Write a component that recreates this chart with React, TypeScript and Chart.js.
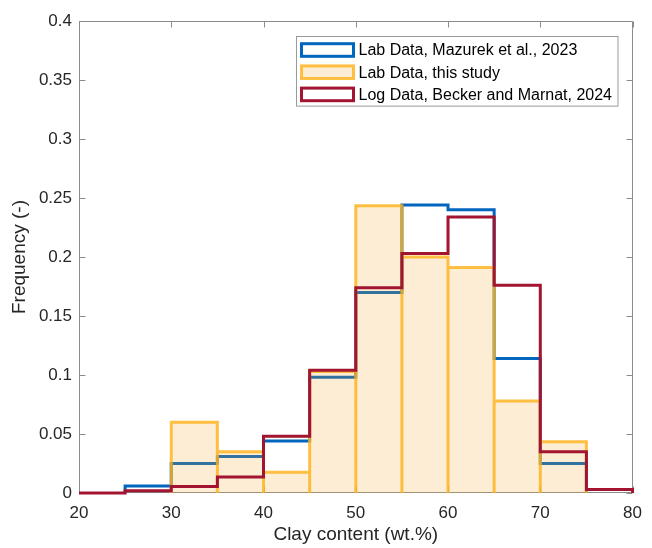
import { useEffect, useRef } from "react";
import { Chart, registerables } from "chart.js";

Chart.register(...registerables);

// ---- data ----
const binEdges = [20, 25, 30, 35, 40, 45, 50, 55, 60, 65, 70, 75, 80];
const mazurekFreq: (number | null)[] = [null, 0.006, 0.025, 0.031, 0.044, 0.098, 0.170, 0.244, 0.240, 0.114, 0.025, null];
const thisStudyFreq: (number | null)[] = [null, null, 0.060, 0.035, 0.0175, 0.103, 0.2435, 0.200, 0.191, 0.078, 0.0435, null];
const beckerFreq: (number | null)[] = [0, 0.002, 0.0055, 0.0135, 0.048, 0.104, 0.174, 0.203, 0.234, 0.176, 0.035, 0.003];
const seriesLabels = [
  "Lab Data, Mazurek et al., 2023",
  "Lab Data, this study",
  "Log Data, Becker and Marnat, 2024",
];
const xTickValues = [20, 30, 40, 50, 60, 70, 80];
const yTickValues = [0, 0.05, 0.1, 0.15, 0.2, 0.25, 0.3, 0.35, 0.4];
const xTitle = "Clay content (wt.%)";
const yTitle = "Frequency (-)";

// ---- styles ----
const FONT = "'Liberation Sans', Arial, Helvetica, sans-serif";
const BLUE = "rgb(0,102,189)";
const RED = "rgb(162,20,47)";
const ORANGE_EDGE = "rgba(255,178,28,0.82)";
const ORANGE_FILL = "rgba(245,165,40,0.2)";
const AXIS = "#8c8c8c";
const TEXT = "#262626";

function stairs(vals: (number | null)[]) {
  let first = -1;
  let last = -1;
  vals.forEach((v, i) => {
    if (v !== null) {
      if (first < 0) first = i;
      last = i;
    }
  });
  const pts: { x: number; y: number }[] = [{ x: binEdges[first], y: 0 }];
  for (let i = first; i <= last; i++) {
    const v = vals[i] as number;
    pts.push({ x: binEdges[i], y: v });
    pts.push({ x: binEdges[i + 1], y: v });
  }
  pts.push({ x: binEdges[last + 1], y: 0 });
  return pts;
}

function bars(vals: (number | null)[]) {
  const pts: { x: number; y: number }[] = [];
  vals.forEach((v, i) => {
    if (v === null) return;
    pts.push({ x: binEdges[i], y: 0 });
    pts.push({ x: binEdges[i], y: v });
    pts.push({ x: binEdges[i + 1], y: v });
    pts.push({ x: binEdges[i + 1], y: 0 });
  });
  return pts;
}

const framePlugin = {
  id: "frame",
  beforeDatasetsDraw(chart: any) {
    const { ctx, chartArea, scales } = chart;
    const l = Math.round(chartArea.left) + 0.5;
    const r = Math.round(chartArea.right) - 0.5;
    const t = Math.round(chartArea.top) + 0.5;
    const b = Math.round(chartArea.bottom) - 0.5;
    ctx.save();
    ctx.strokeStyle = AXIS;
    ctx.lineWidth = 1;
    ctx.beginPath();
    ctx.rect(l, t, r - l, b - t);
    const tl = 6;
    xTickValues.forEach((v) => {
      const px = Math.round(scales.x.getPixelForValue(v)) + 0.5;
      ctx.moveTo(px, b);
      ctx.lineTo(px, b - tl);
      ctx.moveTo(px, t);
      ctx.lineTo(px, t + tl);
    });
    yTickValues.forEach((v) => {
      const py = Math.round(scales.y.getPixelForValue(v)) + 0.5;
      ctx.moveTo(l, py);
      ctx.lineTo(l + tl, py);
      ctx.moveTo(r, py);
      ctx.lineTo(r - tl, py);
    });
    ctx.stroke();
    ctx.restore();
  },
};

const legendPlugin = {
  id: "boxLegend",
  afterDraw(chart: any) {
    const { ctx, chartArea } = chart;
    ctx.save();
    ctx.font = `16px ${FONT}`;
    const textW = Math.max(...seriesLabels.map((s) => ctx.measureText(s).width));
    const patchW = 55;
    const textX0 = 4 + patchW + 3;
    const boxW = textX0 + textW + 6;
    const rowH = 22.2;
    const boxH = rowH * seriesLabels.length + 3;
    const boxR = chartArea.right - 15;
    const boxL = Math.round(boxR - boxW) + 0.5;
    const boxT = Math.round(chartArea.top + 15) + 0.5;
    ctx.fillStyle = "#ffffff";
    ctx.fillRect(boxL, boxT, boxW, boxH);
    ctx.strokeStyle = "#9a9a9a";
    ctx.lineWidth = 1;
    ctx.strokeRect(boxL, boxT, boxW, boxH);
    const strokes = [BLUE, ORANGE_EDGE, RED];
    const fills = ["#ffffff", ORANGE_FILL, "#ffffff"];
    seriesLabels.forEach((label, i) => {
      const cy = boxT + 13.5 + i * rowH;
      const px = boxL + 5;
      ctx.fillStyle = "#ffffff";
      ctx.fillRect(px, cy - 6.3, patchW - 3, 12.6);
      ctx.fillStyle = fills[i];
      ctx.fillRect(px, cy - 6.3, patchW - 3, 12.6);
      ctx.strokeStyle = strokes[i];
      ctx.lineWidth = 3;
      ctx.strokeRect(px, cy - 6.3, patchW - 3, 12.6);
      ctx.fillStyle = "#000000";
      ctx.textBaseline = "middle";
      ctx.textAlign = "left";
      ctx.fillText(label, boxL + textX0, cy + 1);
    });
    ctx.restore();
  },
};

export default function App() {
  const canvasRef = useRef<HTMLCanvasElement | null>(null);

  useEffect(() => {
    if (!canvasRef.current) return;
    const chart = new Chart(canvasRef.current, {
      type: "line",
      data: {
        datasets: [
          {
            label: seriesLabels[0],
            data: stairs(mazurekFreq),
            borderColor: BLUE,
            borderWidth: 3,
            pointRadius: 0,
            fill: false,
            tension: 0,
            order: 3,
            clip: false,
          } as any,
          {
            label: seriesLabels[1],
            data: bars(thisStudyFreq),
            borderColor: ORANGE_EDGE,
            backgroundColor: ORANGE_FILL,
            borderWidth: 3,
            pointRadius: 0,
            fill: "origin",
            tension: 0,
            order: 2,
            clip: false,
          } as any,
          {
            label: seriesLabels[2],
            data: stairs(beckerFreq),
            borderColor: RED,
            borderWidth: 3,
            pointRadius: 0,
            fill: false,
            tension: 0,
            order: 1,
            clip: false,
          } as any,
        ],
      },
      options: {
        animation: false,
        responsive: false,
        maintainAspectRatio: false,
        layout: { padding: { left: 0, top: 21, right: 11, bottom: 0 } },
        plugins: {
          legend: { display: false },
          tooltip: { enabled: false },
        },
        scales: {
          x: {
            type: "linear",
            min: 20,
            max: 80,
            grid: { display: false, drawTicks: false },
            border: { display: false },
            afterBuildTicks: (s: any) => {
              s.ticks = xTickValues.map((v) => ({ value: v }));
            },
            afterFit: (s: any) => {
              s.height = 55;
            },
            ticks: {
              color: TEXT,
              padding: 10,
              maxRotation: 0,
              font: { family: FONT, size: 17 },
              callback: (v: any) => String(v),
            },
            title: {
              display: true,
              text: xTitle,
              color: TEXT,
              font: { family: FONT, size: 19 },
              padding: { top: 0, bottom: 2 },
            },
          },
          y: {
            type: "linear",
            min: 0,
            max: 0.4,
            grid: { display: false, drawTicks: false },
            border: { display: false },
            afterBuildTicks: (s: any) => {
              s.ticks = yTickValues.map((v) => ({ value: v }));
            },
            afterFit: (s: any) => {
              s.width = 79;
            },
            ticks: {
              color: TEXT,
              padding: 7,
              font: { family: FONT, size: 17 },
              callback: (v: any) => String(Number(Number(v).toFixed(2))),
            },
            title: {
              display: true,
              text: yTitle,
              color: TEXT,
              font: { family: FONT, size: 19 },
              padding: { top: 8, bottom: 0 },
            },
          },
        },
      },
      plugins: [framePlugin, legendPlugin],
    });
    return () => chart.destroy();
  }, []);

  return (
    <div style={{ position: "fixed", left: 0, top: 0, width: 652, height: 548, background: "#ffffff" }}>
      <canvas ref={canvasRef} width={652} height={548} style={{ width: 652, height: 548, display: "block" }} />
    </div>
  );
}
